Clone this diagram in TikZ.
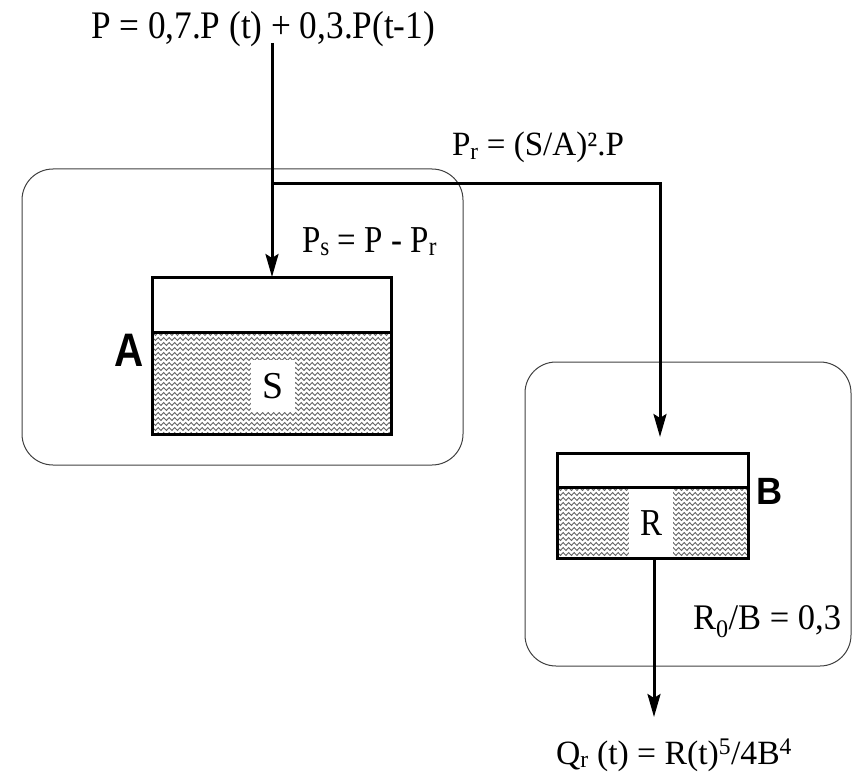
\documentclass[tikz,border=0pt]{standalone}
\usepackage{fontspec}
\setmainfont{Liberation Serif}
\newfontfamily\sansbold{Liberation Sans}
\usetikzlibrary{arrows.meta,decorations.pathmorphing}
\newsavebox\tbox
\newcommand\fitt[3]{\sbox\tbox{\fontsize{#2}{#2}\selectfont #3}\pgfmathsetmacro\xs{#1/\the\wd\tbox}\scalebox{\xs}[1]{\usebox\tbox}}
\tikzset{
  lbl/.style={inner sep=0pt, outer sep=0pt, anchor=base west},
  letter/.style={inner sep=0pt, font=\sansbold\bfseries},
  zone/.style={draw=black!75, line width=1pt, rounded corners=31pt},
  tankline/.style={draw=black, line width=3pt},
  wave/.style={draw=black!60, line width=0.9pt, decorate, decoration={snake, amplitude=1.4pt, segment length=5.5pt}},
  flow/.style={line width=3pt, -{Stealth[length=23pt,width=13pt,inset=4pt]}}
}
\begin{document}
\begin{tikzpicture}[x=1pt,y=-1pt]
\useasboundingbox (0,0) rectangle (852,773);
% zones
\draw[zone] (22,169) rectangle (463,465);
\draw[zone] (525,362) rectangle (851,666);
% tank A content
\begin{scope}
\clip (152,332) rectangle (391,434);
\foreach \yy in {334,339,...,436} \draw[wave] (140,\yy) -- (400,\yy);
\end{scope}
\fill[white] (251,360) rectangle (295,412);
\node[inner sep=0pt] (S) at (273,386) {\fitt{21}{38}{S}};
\draw[tankline] (152,277) rectangle (391,434);
\draw[tankline] (152,332) -- (391,332);
% tank B content
\begin{scope}
\clip (557,487) rectangle (748,558);
\foreach \yy in {489,494,...,560} \draw[wave] (545,\yy) -- (760,\yy);
\end{scope}
\fill[white] (629,489) rectangle (673,558);
\node[inner sep=0pt] (R) at (651,523) {\fitt{22}{38}{R}};
\draw[tankline] (557,453) rectangle (748,558);
\draw[tankline] (557,487) -- (748,487);
% letters
\node[letter] (A) at (129,350) {\scalebox{0.86}[1]{\fontsize{47}{47}\selectfont A}};
\node[letter] (B) at (770,491) {\scalebox{0.95}[1]{\fontsize{38}{38}\selectfont B}};
% texts
\node[lbl] (ptop) at (91,39) {\fitt{344}{39}{P = 0,7.P (t) + 0,3.P(t-1)}};
\node[lbl] (pr) at (452,156) {\fitt{172}{34}{P\textsubscript{r} = (S/A)².P}};
\node[lbl] (ps) at (302,252) {\fitt{135}{38}{P\textsubscript{s} = P - P\textsubscript{r}}};
\node[lbl] (r0) at (693,629) {\fitt{148}{36}{R\textsubscript{0}/B = 0,3}};
\node[lbl] (qr) at (556,764) {\fitt{236}{34}{Q\textsubscript{r} (t) = R(t)\textsuperscript{5}/4B\textsuperscript{4}}};
% connector points
\coordinate (pin) at (272,43);
\coordinate (tAin) at (272,277);
\coordinate (j) at (272,184);
\coordinate (k) at (660,184);
\coordinate (tBin) at (660,437);
\coordinate (tBout) at (654,558);
\coordinate (qend) at (654,717);
% flows
\draw[flow] (pin) -- (tAin);
\draw[flow] (j) -- (k) -- (tBin);
\draw[flow] (tBout) -- (qend);
\end{tikzpicture}
\end{document}
